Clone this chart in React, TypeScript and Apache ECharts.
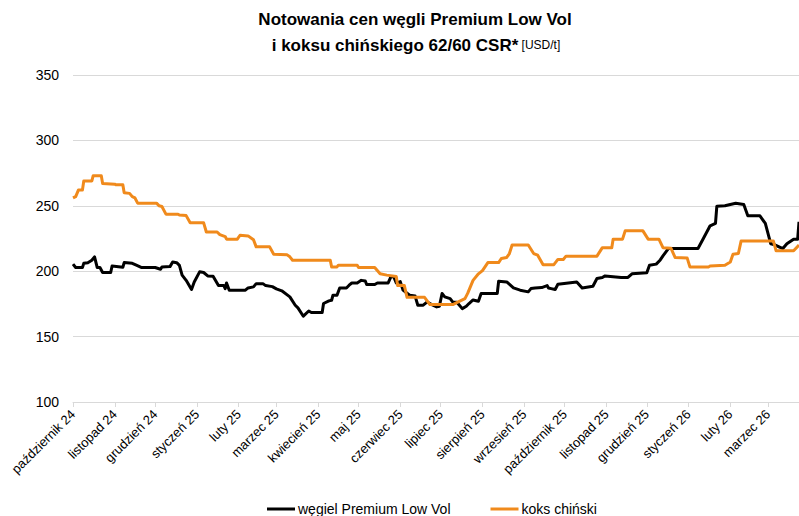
import React, { useEffect, useRef } from "react";
import * as echarts from "echarts";

// Tick labels (month starts)
const MONTH_STARTS = [
  "2024-10-01", "2024-11-01", "2024-12-01", "2025-01-01", "2025-02-01", "2025-03-01",
  "2025-04-01", "2025-05-01", "2025-06-01", "2025-07-01", "2025-08-01", "2025-09-01",
  "2025-10-01", "2025-11-01", "2025-12-01", "2026-01-01", "2026-02-01", "2026-03-01",
];
const MONTH_LABELS = [
  "październik 24", "listopad 24", "grudzień 24", "styczeń 25", "luty 25", "marzec 25",
  "kwiecień 25", "maj 25", "czerwiec 25", "lipiec 25", "sierpień 25", "wrzesień 25",
  "październik 25", "listopad 25", "grudzień 25", "styczeń 26", "luty 26", "marzec 26",
];
const X_MIN = "2024-10-01";
const X_MAX = "2026-03-24";

const SERIES_NAMES = ["węgiel Premium Low Vol", "koks chiński"];

// węgiel Premium Low Vol [date, USD/t]
const COAL: [string, number][] = [
  ["2024-10-01", 205.4], ["2024-10-03", 202.8], ["2024-10-08", 202.8], ["2024-10-09", 206],
  ["2024-10-12", 206.5], ["2024-10-15", 208.4], ["2024-10-17", 211], ["2024-10-19", 202.8],
  ["2024-10-21", 202.8], ["2024-10-23", 199], ["2024-10-29", 199], ["2024-10-30", 204],
  ["2024-11-07", 203], ["2024-11-08", 206.6], ["2024-11-14", 206], ["2024-11-17", 204.6],
  ["2024-11-21", 202.8], ["2024-12-01", 202.8], ["2024-12-05", 201.5], ["2024-12-06", 203.3],
  ["2024-12-12", 203.5], ["2024-12-14", 207], ["2024-12-17", 206.5], ["2024-12-19", 204.5],
  ["2024-12-21", 197], ["2024-12-24", 193], ["2024-12-28", 186], ["2024-12-30", 191.8],
  ["2025-01-03", 199.5], ["2025-01-06", 199], ["2025-01-09", 196.4], ["2025-01-13", 196.2],
  ["2025-01-17", 189], ["2025-01-21", 189], ["2025-01-22", 186.7], ["2025-01-23", 191],
  ["2025-01-25", 185.5], ["2025-02-06", 185.5], ["2025-02-08", 187.2], ["2025-02-12", 188],
  ["2025-02-14", 190.5], ["2025-02-19", 190.5], ["2025-02-21", 189], ["2025-02-26", 188.2],
  ["2025-03-01", 186.5], ["2025-03-05", 185], ["2025-03-11", 180.4], ["2025-03-15", 174],
  ["2025-03-17", 172], ["2025-03-21", 165.6], ["2025-03-25", 169.6], ["2025-03-27", 168.4],
  ["2025-04-04", 168.4], ["2025-04-05", 175.3], ["2025-04-09", 177.3], ["2025-04-11", 177.8],
  ["2025-04-12", 181.6], ["2025-04-15", 181.6], ["2025-04-17", 187.2], ["2025-04-22", 187.2],
  ["2025-04-24", 189.3], ["2025-04-26", 191], ["2025-04-30", 191], ["2025-05-03", 193],
  ["2025-05-06", 192.5], ["2025-05-07", 189.8], ["2025-05-13", 189.8], ["2025-05-15", 191],
  ["2025-05-23", 191], ["2025-05-25", 195.7], ["2025-05-27", 196], ["2025-05-29", 191],
  ["2025-06-01", 192], ["2025-06-03", 185.5], ["2025-06-08", 181.6], ["2025-06-12", 181],
  ["2025-06-14", 174], ["2025-06-18", 174], ["2025-06-21", 176.5], ["2025-06-24", 174.7],
  ["2025-06-28", 172.7], ["2025-06-30", 173.2], ["2025-07-02", 183], ["2025-07-04", 180.4],
  ["2025-07-08", 179], ["2025-07-10", 176.3], ["2025-07-13", 176.3], ["2025-07-17", 171.4],
  ["2025-07-20", 173.2], ["2025-07-22", 175.3], ["2025-07-25", 178], ["2025-07-29", 177],
  ["2025-07-31", 183], ["2025-08-12", 183], ["2025-08-13", 192.3], ["2025-08-19", 191.8],
  ["2025-08-24", 187.2], ["2025-08-29", 185.5], ["2025-09-04", 184.2], ["2025-09-06", 186.7],
  ["2025-09-09", 187.2], ["2025-09-14", 187.5], ["2025-09-18", 189], ["2025-09-19", 187.2],
  ["2025-09-21", 186.7], ["2025-09-24", 186], ["2025-09-26", 190], ["2025-10-10", 191.8],
  ["2025-10-14", 187.2], ["2025-10-22", 188.5], ["2025-10-25", 194.4], ["2025-10-29", 195.2],
  ["2025-10-31", 196.4], ["2025-11-12", 195.2], ["2025-11-17", 195.2], ["2025-11-20", 198],
  ["2025-12-01", 198.8], ["2025-12-03", 204.6], ["2025-12-08", 205.4], ["2025-12-11", 208.6],
  ["2025-12-13", 211.7], ["2025-12-17", 217.3], ["2026-01-08", 217.3], ["2026-01-12", 225],
  ["2026-01-17", 234.7], ["2026-01-21", 236.5], ["2026-01-22", 249.7], ["2026-01-28", 250],
  ["2026-02-01", 251], ["2026-02-05", 252], ["2026-02-11", 251], ["2026-02-14", 242.3],
  ["2026-02-23", 242.3], ["2026-02-27", 236.5], ["2026-03-03", 221], ["2026-03-06", 220.2],
  ["2026-03-12", 217.3], ["2026-03-15", 221], ["2026-03-20", 224.5], ["2026-03-23", 224.5],
  ["2026-03-24", 237.8],
];

// koks chiński 62/60 CSR [date, USD/t]
const COKE: [string, number][] = [
  ["2024-10-01", 256], ["2024-10-03", 257], ["2024-10-05", 262], ["2024-10-08", 262],
  ["2024-10-09", 269], ["2024-10-15", 269], ["2024-10-16", 273], ["2024-10-22", 273],
  ["2024-10-23", 267], ["2024-11-01", 266.5], ["2024-11-02", 266], ["2024-11-07", 266],
  ["2024-11-08", 260], ["2024-11-12", 259.5], ["2024-11-14", 257], ["2024-11-16", 256],
  ["2024-11-18", 252], ["2024-12-02", 252], ["2024-12-04", 250], ["2024-12-06", 249.5],
  ["2024-12-09", 243.6], ["2024-12-18", 243.6], ["2024-12-19", 243], ["2024-12-24", 242.5],
  ["2024-12-27", 237], ["2025-01-06", 237], ["2025-01-08", 230], ["2025-01-16", 230],
  ["2025-01-18", 228], ["2025-01-22", 226.5], ["2025-01-23", 224.5], ["2025-01-31", 224.5],
  ["2025-02-02", 227.5], ["2025-02-08", 227], ["2025-02-12", 224], ["2025-02-14", 218.6],
  ["2025-02-24", 218.6], ["2025-02-27", 213], ["2025-03-09", 212.5], ["2025-03-11", 211],
  ["2025-03-13", 208.4], ["2025-04-10", 208.4], ["2025-04-11", 203.3], ["2025-04-15", 203.3],
  ["2025-04-16", 204.6], ["2025-04-30", 204.6], ["2025-05-01", 202.8], ["2025-05-13", 202.8],
  ["2025-05-17", 198], ["2025-05-22", 197], ["2025-05-29", 196], ["2025-05-30", 189],
  ["2025-06-01", 189.3], ["2025-06-04", 189], ["2025-06-06", 180], ["2025-06-19", 180],
  ["2025-06-23", 174.5], ["2025-07-10", 174.5], ["2025-07-14", 176.5], ["2025-07-19", 179],
  ["2025-07-21", 183], ["2025-07-25", 193], ["2025-07-29", 198], ["2025-08-01", 200.5],
  ["2025-08-05", 206.6], ["2025-08-13", 206.6], ["2025-08-15", 209.7], ["2025-08-19", 210.5],
  ["2025-08-21", 213.5], ["2025-08-23", 220], ["2025-09-04", 220], ["2025-09-08", 213.5],
  ["2025-09-11", 212.2], ["2025-09-15", 205], ["2025-09-23", 205], ["2025-09-26", 209],
  ["2025-09-30", 209], ["2025-10-02", 211.5], ["2025-10-25", 211.5], ["2025-10-29", 218],
  ["2025-11-05", 218], ["2025-11-06", 224.5], ["2025-11-13", 224.5], ["2025-11-15", 231],
  ["2025-11-28", 231], ["2025-12-02", 224.5], ["2025-12-10", 224.5], ["2025-12-13", 218],
  ["2025-12-19", 217.5], ["2025-12-22", 210.5], ["2025-12-31", 210], ["2026-01-02", 203.3],
  ["2026-01-16", 203.3], ["2026-01-17", 204], ["2026-01-28", 204.5], ["2026-02-01", 207],
  ["2026-02-03", 213], ["2026-02-07", 213.5], ["2026-02-09", 223], ["2026-03-05", 223],
  ["2026-03-07", 215.6], ["2026-03-20", 215.6], ["2026-03-24", 220],
];

const Y_MIN = 100;
const Y_MAX = 350;
const Y_STEP = 50;

const ts = (d: string) => Date.parse(d + "T00:00:00Z");

const SANS = "'Liberation Sans', Arial, sans-serif";

export default function App() {
  const ref = useRef<HTMLDivElement>(null);

  useEffect(() => {
    if (!ref.current) return;
    const chart = echarts.init(ref.current, undefined, { renderer: "svg" });
    const tickValues = MONTH_STARTS.map(ts);

    chart.setOption({
      animation: false,
      backgroundColor: "#ffffff",
      graphic: [
        {
          type: "text",
          x: 415,
          y: 19,
          style: {
            text: "Notowania cen węgli Premium Low Vol",
            align: "center",
            verticalAlign: "middle",
            font: `bold 17px ${SANS}`,
            fill: "#000000",
          },
        },
        {
          type: "text",
          x: 416,
          y: 45,
          style: {
            text: "{b|i koksu chińskiego 62/60 CSR*}{n| [USD/t]}",
            align: "center",
            verticalAlign: "middle",
            rich: {
              b: { fontFamily: SANS, fontWeight: "bold", fontSize: 17, fill: "#000" },
              n: { fontFamily: SANS, fontWeight: "normal", fontSize: 12, fill: "#000" },
            },
          },
        },
      ],
      legend: {
        left: 262,
        top: 497,
        itemWidth: 28,
        itemHeight: 3,
        itemGap: 40,
        icon: "rect",
        textStyle: { fontFamily: SANS, fontSize: 14, color: "#000", padding: [0, 0, 0, -2] },
        data: SERIES_NAMES,
      },
      grid: { left: 73, right: 0, top: 75, bottom: 114 },
      xAxis: {
        type: "value",
        min: ts(X_MIN),
        max: ts(X_MAX),
        axisLine: { show: true, lineStyle: { color: "#d9d9d9", width: 1 } },
        axisTick: {
          show: true,
          customValues: tickValues,
          length: 5,
          lineStyle: { color: "#d9d9d9" },
        },
        axisLabel: {
          customValues: tickValues,
          rotate: 45,
          margin: 10,
          fontFamily: SANS,
          fontSize: 13,
          color: "#000",
          formatter: (v: number) => {
            const i = tickValues.indexOf(v);
            return i >= 0 ? MONTH_LABELS[i] : "";
          },
        },
        splitLine: { show: false },
      },
      yAxis: {
        type: "value",
        min: Y_MIN,
        max: Y_MAX,
        interval: Y_STEP,
        axisLine: { show: false },
        axisTick: { show: false },
        axisLabel: { fontFamily: SANS, fontSize: 14, color: "#000", margin: 14 },
        splitLine: { lineStyle: { color: "#d9d9d9", width: 1 } },
      },
      series: [
        {
          name: SERIES_NAMES[0],
          type: "line",
          showSymbol: false,
          color: "#000000",
          lineStyle: { width: 3, color: "#000000", join: "round" },
          data: COAL.map(([d, v]) => [ts(d), v]),
        },
        {
          name: SERIES_NAMES[1],
          type: "line",
          showSymbol: false,
          color: "#F08A1C",
          lineStyle: { width: 3, color: "#F08A1C", join: "round" },
          data: COKE.map(([d, v]) => [ts(d), v]),
        },
      ],
    });

    return () => chart.dispose();
  }, []);

  return (
    <div
      ref={ref}
      style={{ position: "absolute", left: 0, top: 0, width: 799, height: 516 }}
    />
  );
}
